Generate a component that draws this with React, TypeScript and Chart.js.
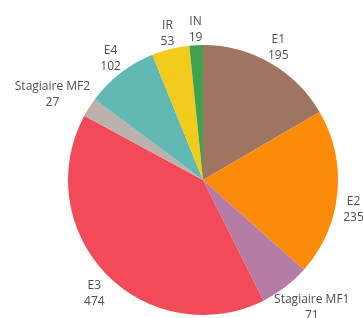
import React, { useEffect, useRef } from "react";
import { Chart, registerables } from "chart.js";

Chart.register(...registerables);

const categories = ["E1", "E2", "Stagiaire MF1", "E3", "Stagiaire MF2", "E4", "IR", "IN"];
const values = [195, 235, 71, 474, 27, 102, 53, 19];
const colors = ["#9f7460", "#fd8b0a", "#b57ca6", "#f24a58", "#bdb1ab", "#62b9b4", "#f2cb1c", "#3ea34b"];

const FONT = "12px 'Open Sans', sans-serif";

const outsideLabels = {
  id: "outsideLabels",
  afterDatasetsDraw(chart: any) {
    const ctx = chart.ctx;
    const meta = chart.getDatasetMeta(0);
    ctx.save();
    ctx.font = FONT;
    ctx.fillStyle = "#4f4f4f";
    ctx.textAlign = "center";
    ctx.textBaseline = "middle";
    const lineH = 16;
    meta.data.forEach((arc: any, i: number) => {
      const { x, y, startAngle, endAngle, outerRadius } = arc.getProps(
        ["x", "y", "startAngle", "endAngle", "outerRadius"],
        true
      );
      const mid = (startAngle + endAngle) / 2;
      const lines = [categories[i], String(values[i])];
      const w = Math.max(...lines.map((l) => ctx.measureText(l).width));
      const h = lines.length * lineH;
      const r = outerRadius + 6;
      const ax = x + Math.cos(mid) * r;
      const ay = y + Math.sin(mid) * r;
      const cx = ax + Math.cos(mid) * (w / 2);
      const cy = ay + Math.sign(Math.sin(mid)) * (h / 2) * 0.8 + 3;
      lines.forEach((l, k) => {
        ctx.fillText(l, cx, cy - h / 2 + lineH / 2 + k * lineH);
      });
    });
    ctx.restore();
  },
};

export default function App() {
  const ref = useRef<HTMLCanvasElement>(null);
  useEffect(() => {
    document.body.style.margin = "0";
    const chart = new Chart(ref.current!, {
      type: "pie",
      data: {
        labels: categories,
        datasets: [
          {
            data: values,
            backgroundColor: colors,
            borderWidth: 0,
          },
        ],
      },
      options: {
        animation: false,
        responsive: false,
        maintainAspectRatio: false,
        layout: { padding: { left: 68, right: 25, top: 45, bottom: 3 } },
        plugins: {
          legend: { display: false },
          tooltip: { enabled: false },
        },
      },
      plugins: [outsideLabels],
    });
    return () => chart.destroy();
  }, []);
  return (
    <div style={{ width: 363, height: 318, background: "#fff" }}>
      <canvas ref={ref} width={363} height={318} />
    </div>
  );
}
